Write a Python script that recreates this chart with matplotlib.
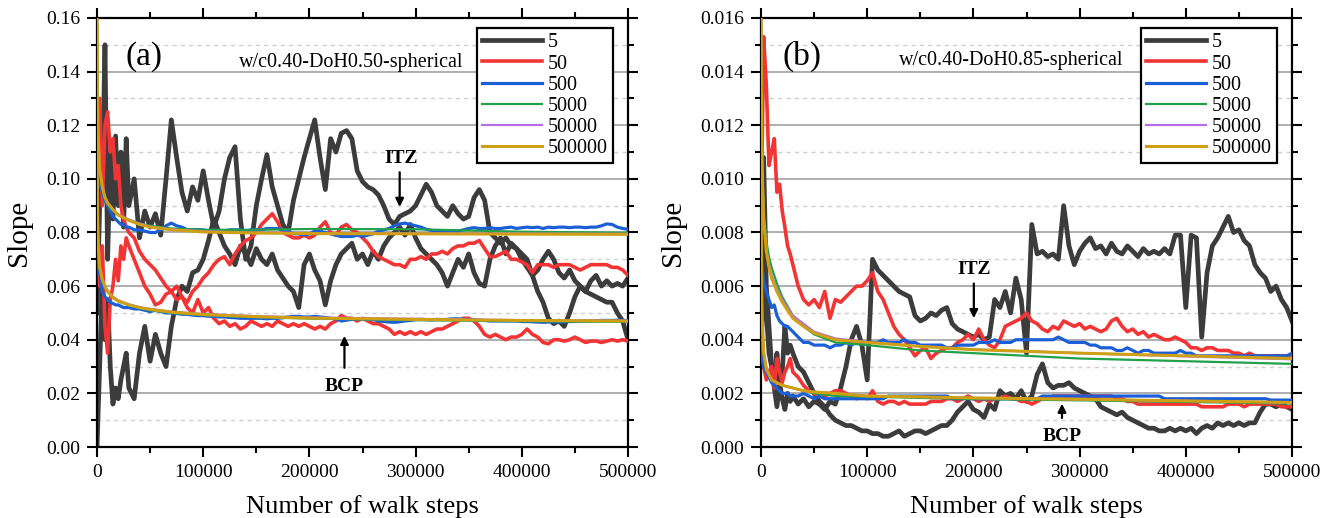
import numpy as np
import matplotlib
matplotlib.use("Agg")
import matplotlib.pyplot as plt
from matplotlib.ticker import MultipleLocator, FuncFormatter

plt.rcParams['font.family'] = ['Liberation Serif', 'DejaVu Serif']
plt.rcParams['mathtext.fontset'] = 'stix'

# ---------------------------------------------------------------- sample grid
# walk steps at which the noisy series are tabulated
STEPS = np.concatenate([np.arange(0, 30000, 2500), np.arange(30000, 500001, 5000)])
# walk steps at which the smooth (large sample) series are tabulated
SMOOTH_STEPS = [0, 500, 1000, 2500, 5000, 7500, 10000, 15000, 20000, 30000,
                40000, 50000, 70000, 100000, 150000, 200000, 300000, 400000, 500000]

SERIES_LABELS = ["5", "50", "500", "5000", "50000", "500000"]

# ---------------------------------------------------------------- panel (a)
a_n5_itz = [0.05, 0.09, 0.10, 0.15, 0.07, 0.11, 0.085, 0.116, 0.09, 0.11, 0.082, 0.115,
            0.09, 0.1, 0.078, 0.088, 0.082, 0.087, 0.079, 0.1, 0.122, 0.108,
            0.095, 0.088, 0.097, 0.092, 0.103, 0.092, 0.082, 0.088, 0.1, 0.108,
            0.112, 0.085, 0.07, 0.075, 0.09, 0.1, 0.109, 0.097, 0.09, 0.083,
            0.08, 0.092, 0.1, 0.108, 0.115, 0.122, 0.108, 0.096, 0.115, 0.11,
            0.117, 0.118, 0.115, 0.103, 0.099, 0.097, 0.096, 0.094, 0.09, 0.085,
            0.083, 0.086, 0.087, 0.088, 0.09, 0.094, 0.098, 0.095, 0.09, 0.088,
            0.086, 0.09, 0.087, 0.085, 0.086, 0.093, 0.096, 0.092, 0.08, 0.078,
            0.076, 0.078, 0.075, 0.074, 0.072, 0.07, 0.064, 0.058, 0.054, 0.048,
            0.046, 0.047, 0.045, 0.05, 0.056, 0.06, 0.058, 0.062, 0.064, 0.06,
            0.062, 0.06, 0.061, 0.06, 0.063]
a_n5_bcp = [0.0, 0.03, 0.062, 0.04, 0.055, 0.03, 0.016, 0.022, 0.018, 0.025, 0.03, 0.035,
            0.022, 0.018, 0.035, 0.045, 0.032, 0.042, 0.035, 0.03, 0.045, 0.055,
            0.06, 0.058, 0.065, 0.066, 0.07, 0.077, 0.085, 0.08, 0.075, 0.072,
            0.068, 0.075, 0.072, 0.068, 0.074, 0.07, 0.068, 0.072, 0.066, 0.063,
            0.06, 0.058, 0.052, 0.068, 0.072, 0.066, 0.062, 0.053, 0.062, 0.068,
            0.072, 0.074, 0.076, 0.07, 0.072, 0.068, 0.073, 0.07, 0.075, 0.078,
            0.08, 0.082, 0.079, 0.083, 0.078, 0.074, 0.072, 0.07, 0.068, 0.065,
            0.06, 0.065, 0.07, 0.067, 0.072, 0.065, 0.061, 0.06, 0.07, 0.075,
            0.078, 0.072, 0.076, 0.074, 0.07, 0.067, 0.064, 0.066, 0.07, 0.073,
            0.07, 0.065, 0.063, 0.066, 0.062, 0.06, 0.058, 0.057, 0.056, 0.055,
            0.054, 0.054, 0.05, 0.047, 0.04]
a_n50_itz = [0.11, 0.13, 0.09, 0.12, 0.125, 0.11, 0.115, 0.1, 0.105, 0.09, 0.085, 0.082,
             0.08, 0.078, 0.073, 0.07, 0.068, 0.066, 0.063, 0.06, 0.058, 0.055,
             0.056, 0.054, 0.058, 0.06, 0.063, 0.065, 0.068, 0.07, 0.071, 0.068,
             0.072, 0.075, 0.077, 0.078, 0.08, 0.083, 0.085, 0.087, 0.084, 0.08,
             0.079, 0.078, 0.078, 0.079, 0.078, 0.079, 0.082, 0.084, 0.08, 0.079,
             0.082, 0.083, 0.081, 0.08, 0.078, 0.076, 0.073, 0.071, 0.07, 0.069,
             0.068, 0.068, 0.067, 0.07, 0.07, 0.071, 0.07, 0.072, 0.072, 0.073,
             0.072, 0.074, 0.075, 0.075, 0.076, 0.076, 0.077, 0.074, 0.071, 0.071,
             0.072, 0.073, 0.07, 0.07, 0.069, 0.068, 0.065, 0.068, 0.068, 0.068,
             0.067, 0.068, 0.068, 0.068, 0.067, 0.066, 0.067, 0.068, 0.068, 0.068,
             0.068, 0.067, 0.067, 0.066, 0.064]
a_n50_bcp = [0.09, 0.06, 0.075, 0.045, 0.035, 0.055, 0.06, 0.07, 0.062, 0.075, 0.07, 0.078,
             0.075, 0.07, 0.065, 0.06, 0.057, 0.053, 0.054, 0.057, 0.058, 0.06,
             0.056, 0.052, 0.05, 0.055, 0.05, 0.052, 0.048, 0.046, 0.047, 0.045,
             0.046, 0.044, 0.045, 0.047, 0.046, 0.045, 0.046, 0.045, 0.047, 0.046,
             0.045, 0.046, 0.045, 0.046, 0.045, 0.044, 0.045, 0.044, 0.046, 0.047,
             0.049, 0.048, 0.048, 0.047, 0.048, 0.047, 0.046, 0.046, 0.045, 0.044,
             0.042, 0.043, 0.042, 0.043, 0.042, 0.043, 0.042, 0.043, 0.044, 0.044,
             0.045, 0.046, 0.047, 0.048, 0.048, 0.047, 0.045, 0.042, 0.041, 0.042,
             0.041, 0.04, 0.041, 0.041, 0.042, 0.044, 0.042, 0.041, 0.039, 0.0385,
             0.04, 0.04, 0.0395, 0.04, 0.041, 0.04, 0.039, 0.0395, 0.0395, 0.039,
             0.0395, 0.04, 0.0395, 0.04, 0.0395]
a_n500_itz = [0.11, 0.1, 0.095, 0.092, 0.09, 0.088, 0.086, 0.085, 0.084, 0.083, 0.083, 0.082,
              0.082, 0.081, 0.081, 0.0805, 0.08, 0.08, 0.081, 0.0825, 0.0835, 0.0825,
              0.082, 0.081, 0.081, 0.081, 0.081, 0.0805, 0.081, 0.0805, 0.0805, 0.081,
              0.081, 0.081, 0.0805, 0.081, 0.081, 0.081, 0.0815, 0.0815, 0.0815, 0.081,
              0.0805, 0.0795, 0.0795, 0.079, 0.0795, 0.0805, 0.0805, 0.08, 0.0795, 0.079,
              0.0785, 0.0785, 0.0785, 0.079, 0.0785, 0.079, 0.0795, 0.0805, 0.081, 0.0815,
              0.0825, 0.0832, 0.0835, 0.083, 0.0825, 0.082, 0.0812, 0.0808, 0.0805, 0.0805,
              0.0805, 0.0805, 0.0805, 0.081, 0.0815, 0.0818, 0.0815, 0.0815, 0.0818, 0.0815,
              0.0815, 0.0818, 0.082, 0.0815, 0.0818, 0.082, 0.0818, 0.082, 0.0815, 0.082,
              0.0818, 0.082, 0.082, 0.0818, 0.082, 0.082, 0.0818, 0.082, 0.082, 0.0825,
              0.0832, 0.083, 0.082, 0.0815, 0.0812]
a_n500_bcp = [0.075, 0.065, 0.058, 0.056, 0.055, 0.054, 0.0535, 0.053, 0.053, 0.0525, 0.052, 0.052,
              0.052, 0.0515, 0.0515, 0.051, 0.0505, 0.051, 0.0505, 0.05, 0.05, 0.0498,
              0.0495, 0.0495, 0.0492, 0.049, 0.049, 0.0488, 0.0487, 0.0485, 0.0485, 0.0483,
              0.0482, 0.048, 0.048, 0.048, 0.048, 0.048, 0.0478, 0.048, 0.048, 0.0482,
              0.0485, 0.0487, 0.0487, 0.0485, 0.0485, 0.0487, 0.0485, 0.0483, 0.048, 0.0478,
              0.047, 0.0473, 0.0476, 0.0478, 0.0478, 0.0476, 0.0475, 0.047, 0.0468, 0.0466,
              0.0465, 0.0467, 0.047, 0.0472, 0.0475, 0.0476, 0.0475, 0.0474, 0.0476, 0.0475,
              0.0476, 0.0478, 0.0478, 0.0476, 0.0475, 0.0475, 0.0473, 0.0472, 0.047, 0.047,
              0.047, 0.047, 0.047, 0.047, 0.0468, 0.0468, 0.0467, 0.0466, 0.0465, 0.0466,
              0.0466, 0.0466, 0.0467, 0.0468, 0.0468, 0.0469, 0.047, 0.047, 0.0471, 0.0472,
              0.0472, 0.0472, 0.0473, 0.0472, 0.0472]
a_n5000_itz = [0.15, 0.125, 0.115, 0.103, 0.096, 0.0925, 0.0905, 0.0882, 0.0865, 0.0847,
               0.0834, 0.0825, 0.0815, 0.081, 0.081, 0.0813, 0.0812, 0.0803, 0.0799]
a_n50000_itz = [0.17, 0.13, 0.117, 0.104, 0.0972, 0.0933, 0.0912, 0.0887, 0.0868, 0.0848,
                0.0833, 0.0822, 0.0812, 0.0804, 0.08, 0.0798, 0.0797, 0.0796, 0.0795]
a_n500000_itz = [0.175, 0.13, 0.117, 0.104, 0.097, 0.093, 0.091, 0.0885, 0.0865, 0.0845,
                 0.083, 0.082, 0.081, 0.0802, 0.0798, 0.0796, 0.0795, 0.0794, 0.0793]
a_n5000_bcp = [0.11, 0.083, 0.075, 0.066, 0.062, 0.0595, 0.0578, 0.0556, 0.0543, 0.0528,
               0.0518, 0.051, 0.05, 0.0492, 0.0484, 0.0479, 0.0473, 0.0469, 0.0467]
a_n50000_bcp = [0.12, 0.086, 0.077, 0.068, 0.0628, 0.0601, 0.0583, 0.056, 0.0547, 0.0532,
                0.0522, 0.0515, 0.0505, 0.0496, 0.0488, 0.0483, 0.0478, 0.0473, 0.0471]
a_n500000_bcp = [0.12, 0.085, 0.076, 0.067, 0.0624, 0.0598, 0.058, 0.0558, 0.0545, 0.053,
                 0.052, 0.0513, 0.0503, 0.0494, 0.0486, 0.0481, 0.0476, 0.0472, 0.047]

# ---------------------------------------------------------------- panel (b)
b_n5_itz = [0.004, 0.0108, 0.006, 0.0045, 0.003, 0.0022, 0.0015, 0.0024, 0.0018, 0.0014, 0.002, 0.0017,
            0.0019, 0.0016, 0.0018, 0.0015, 0.0017, 0.0016, 0.0014, 0.0017, 0.0016, 0.0022,
            0.003, 0.004, 0.0045, 0.0038, 0.0025, 0.007, 0.0066, 0.0064, 0.0062, 0.006,
            0.0058, 0.0057, 0.0056, 0.0049, 0.0047, 0.0048, 0.005, 0.0049, 0.0051, 0.0052,
            0.0046, 0.0044, 0.0043, 0.0042, 0.0041, 0.0042, 0.004, 0.0041, 0.0055, 0.0052,
            0.0058, 0.005, 0.0063, 0.0055, 0.0035, 0.0083, 0.0072, 0.0073, 0.0071, 0.0072,
            0.007, 0.009, 0.0075, 0.0068, 0.0073, 0.0076, 0.0078, 0.0074, 0.0075, 0.0072,
            0.0076, 0.0073, 0.0072, 0.0075, 0.0073, 0.0071, 0.0074, 0.0072, 0.0073, 0.0072,
            0.0074, 0.0072, 0.0079, 0.0079, 0.0052, 0.0079, 0.0078, 0.0041, 0.0065, 0.0075,
            0.0078, 0.0082, 0.0086, 0.008, 0.0081, 0.0077, 0.0075, 0.0068, 0.0065, 0.0063,
            0.0058, 0.006, 0.0055, 0.0052, 0.0047]
b_n5_bcp = [0.003, 0.0075, 0.005, 0.0035, 0.003, 0.0025, 0.0035, 0.0022, 0.0028, 0.0045, 0.0035, 0.0038,
            0.0035, 0.003, 0.0028, 0.0024, 0.002, 0.0017, 0.0015, 0.0012, 0.001, 0.0009,
            0.0008, 0.0008, 0.0007, 0.0006, 0.0006, 0.0005, 0.0005, 0.0004, 0.0004, 0.0005,
            0.0006, 0.0004, 0.0005, 0.0006, 0.0006, 0.0005, 0.0006, 0.0007, 0.0008, 0.0008,
            0.001, 0.0013, 0.0015, 0.0017, 0.0014, 0.0013, 0.0011, 0.0016, 0.0014, 0.0021,
            0.0019, 0.002, 0.0018, 0.0021, 0.0017, 0.0019, 0.0027, 0.0031, 0.0024, 0.0022,
            0.0023, 0.0023, 0.0024, 0.0022, 0.0021, 0.002, 0.0019, 0.0018, 0.0015, 0.0014,
            0.0013, 0.0012, 0.0013, 0.0011, 0.001, 0.0009, 0.0008, 0.0007, 0.0007, 0.0006,
            0.0006, 0.0007, 0.0006, 0.0007, 0.0006, 0.0007, 0.0005, 0.0007, 0.0008, 0.0007,
            0.0009, 0.0008, 0.0009, 0.0008, 0.0009, 0.0008, 0.0009, 0.0009, 0.0013, 0.0016,
            0.0016, 0.0015, 0.0016, 0.0015, 0.0014]
b_n50_itz = [0.008, 0.0153, 0.0135, 0.0105, 0.011, 0.0115, 0.0095, 0.0098, 0.0088, 0.0082, 0.0075, 0.0072,
             0.0068, 0.006, 0.0055, 0.0053, 0.0055, 0.0052, 0.0058, 0.0048, 0.0055, 0.0054,
             0.0056, 0.0058, 0.006, 0.006, 0.0062, 0.0065, 0.0058, 0.0055, 0.005, 0.0045,
             0.0042, 0.004, 0.0037, 0.0034, 0.0036, 0.0037, 0.0033, 0.0035, 0.0036, 0.0037,
             0.0037, 0.0039, 0.004, 0.0042, 0.004, 0.0044, 0.004, 0.0038, 0.0037, 0.004,
             0.0045, 0.0046, 0.0047, 0.0048, 0.005, 0.0047, 0.0046, 0.0044, 0.0043, 0.0045,
             0.0044, 0.0047, 0.0046, 0.0045, 0.0046, 0.0044, 0.0045, 0.0044, 0.0043, 0.0044,
             0.0047, 0.0048, 0.0045, 0.0043, 0.0044, 0.0042, 0.0043, 0.0041, 0.0042, 0.0041,
             0.004, 0.004, 0.0041, 0.004, 0.0039, 0.0037, 0.0037, 0.0036, 0.0037, 0.0037,
             0.0036, 0.0036, 0.0036, 0.0035, 0.0035, 0.0034, 0.0035, 0.0034, 0.0034, 0.0034,
             0.0034, 0.0034, 0.0034, 0.0034, 0.0034]
b_n50_bcp = [0.004, 0.003, 0.0025, 0.0028, 0.003, 0.0022, 0.0033, 0.0028, 0.0024, 0.0028, 0.003, 0.0033,
             0.0028, 0.0026, 0.0023, 0.0021, 0.002, 0.0019, 0.0019, 0.002, 0.0021, 0.0021,
             0.002, 0.0019, 0.0018, 0.0019, 0.0018, 0.0021, 0.0017, 0.0016, 0.0017, 0.0017,
             0.0016, 0.0017, 0.0016, 0.0016, 0.0016, 0.0016, 0.0017, 0.0017, 0.0017, 0.0018,
             0.0018, 0.0017, 0.0018, 0.0019, 0.0018, 0.0017, 0.0018, 0.0017, 0.0018, 0.0018,
             0.0019, 0.0018, 0.0018, 0.0017, 0.0017, 0.0016, 0.0017, 0.0018, 0.0018, 0.0019,
             0.0019, 0.0019, 0.0019, 0.0019, 0.0019, 0.0019, 0.0019, 0.0019, 0.0019, 0.0019,
             0.0019, 0.0018, 0.0018, 0.0017, 0.0017, 0.0016, 0.0016, 0.0016, 0.0016, 0.0016,
             0.0016, 0.0016, 0.0016, 0.0016, 0.0016, 0.0016, 0.0016, 0.0015, 0.0015, 0.0015,
             0.0015, 0.0015, 0.0016, 0.0016, 0.0016, 0.0015, 0.0016, 0.0016, 0.0016, 0.0016,
             0.0016, 0.0016, 0.0015, 0.0015, 0.0015]
b_n500_itz = [0.007, 0.0062, 0.0058, 0.0055, 0.0052, 0.0053, 0.0049, 0.0047, 0.0046, 0.0045, 0.0045, 0.0044,
              0.0043, 0.0041, 0.0039, 0.0039, 0.0038, 0.0038, 0.0038, 0.0037, 0.0038, 0.0038,
              0.0039, 0.0038, 0.0039, 0.0039, 0.0039, 0.0039, 0.0039, 0.004, 0.0039, 0.0039,
              0.0039, 0.004, 0.0039, 0.0039, 0.0038, 0.0038, 0.0038, 0.0038, 0.0038, 0.0037,
              0.0037, 0.0038, 0.0038, 0.0038, 0.0038, 0.0039, 0.0039, 0.0039, 0.004, 0.0039,
              0.0039, 0.0039, 0.004, 0.004, 0.004, 0.004, 0.004, 0.004, 0.004, 0.004,
              0.0041, 0.004, 0.0039, 0.0039, 0.0039, 0.0039, 0.0038, 0.0038, 0.0037, 0.0037,
              0.0037, 0.0036, 0.0036, 0.0037, 0.0036, 0.0035, 0.0036, 0.0036, 0.0035, 0.0035,
              0.0035, 0.0035, 0.0035, 0.0036, 0.0035, 0.0035, 0.0034, 0.0034, 0.0034, 0.0034,
              0.0034, 0.0034, 0.0034, 0.0034, 0.0034, 0.0034, 0.0034, 0.0034, 0.0034, 0.0034,
              0.0034, 0.0034, 0.0034, 0.0034, 0.0035]
b_n500_bcp = [0.0035, 0.003, 0.0028, 0.0026, 0.0024, 0.0023, 0.0022, 0.0021, 0.002, 0.002, 0.002, 0.0019,
              0.0019, 0.0019, 0.002, 0.0019, 0.0018, 0.0019, 0.0018, 0.0018, 0.0018, 0.0018,
              0.0018, 0.0018, 0.0018, 0.0018, 0.0018, 0.0018, 0.0018, 0.0018, 0.0019, 0.0019,
              0.0019, 0.0019, 0.0019, 0.0019, 0.0019, 0.0019, 0.0019, 0.0019, 0.0019, 0.0019,
              0.0018, 0.0018, 0.0018, 0.0018, 0.0018, 0.0018, 0.0018, 0.0018, 0.0018, 0.0018,
              0.0018, 0.0018, 0.0018, 0.0018, 0.0018, 0.0018, 0.0018, 0.0019, 0.0019, 0.0019,
              0.0019, 0.0019, 0.0019, 0.0019, 0.0019, 0.0019, 0.0019, 0.0019, 0.0019, 0.0019,
              0.0019, 0.0019, 0.0019, 0.0019, 0.0019, 0.0019, 0.0019, 0.0019, 0.0019, 0.0019,
              0.0018, 0.0018, 0.0018, 0.0018, 0.0018, 0.0018, 0.0018, 0.0018, 0.0018, 0.0018,
              0.0018, 0.0018, 0.0018, 0.0018, 0.0018, 0.0018, 0.0018, 0.0018, 0.0018, 0.0018,
              0.00175, 0.00175, 0.00175, 0.00175, 0.00175]
b_n5000_itz = [0.0165, 0.0125, 0.0107, 0.0088, 0.0077, 0.0071, 0.0067, 0.0061, 0.0056, 0.0049,
               0.0045, 0.0042, 0.0039, 0.0038, 0.0036, 0.0035, 0.0033, 0.0032, 0.0031]
b_n50000_itz = [0.0175, 0.0125, 0.0106, 0.0086, 0.0074, 0.0068, 0.0064, 0.0059, 0.0055, 0.0049,
                0.0046, 0.0043, 0.00405, 0.00392, 0.00376, 0.00364, 0.0035, 0.00338, 0.00327]
b_n500000_itz = [0.0175, 0.0125, 0.0105, 0.0085, 0.0073, 0.0067, 0.0063, 0.0058, 0.0054, 0.0048,
                 0.0045, 0.00425, 0.004, 0.0039, 0.00375, 0.00363, 0.0035, 0.0034, 0.0033]
b_n5000_bcp = [0.011, 0.0063, 0.0047, 0.0035, 0.0029, 0.0027, 0.0025, 0.0024, 0.0023, 0.0022,
               0.0021, 0.002, 0.0019, 0.00188, 0.00183, 0.00179, 0.00174, 0.00168, 0.00162]
b_n50000_bcp = [0.0115, 0.0066, 0.0049, 0.0036, 0.003, 0.0027, 0.0025, 0.0024, 0.0023, 0.0022,
                0.0021, 0.00206, 0.002, 0.00191, 0.00187, 0.00183, 0.00178, 0.00172, 0.00166]
b_n500000_bcp = [0.0115, 0.0065, 0.0048, 0.0035, 0.0029, 0.0027, 0.0025, 0.0024, 0.0023, 0.0022,
                 0.0021, 0.00205, 0.002, 0.0019, 0.00187, 0.00183, 0.00178, 0.00172, 0.00166]

# ---------------------------------------------------------------- styling
COLORS = ["#3c3c3c", "#f23434", "#1a5fd8", "#22a04a", "#b46ee6", "#cf9f14"]
WIDTHS = [3.4, 2.6, 2.3, 1.6, 1.6, 2.2]

PANELS = [
    dict(tag="(a)", title="w/c0.40-DoH0.50-spherical", ymax=0.16, ymajor=0.02, yminor=0.01,
         fmt="{:.2f}",
         noisy=[(a_n5_itz, a_n5_bcp), (a_n50_itz, a_n50_bcp), (a_n500_itz, a_n500_bcp)],
         smooth=[(a_n5000_itz, a_n5000_bcp), (a_n50000_itz, a_n50000_bcp),
                 (a_n500000_itz, a_n500000_bcp)],
         itz_arrow=(285000, 0.1035, 0.0885), itz_text=(286000, 0.1045),
         bcp_arrow=(233000, 0.0285, 0.0425), bcp_text=(233000, 0.0225),
         tag_pos=(44000, 0.1455), title_pos=(239000, 0.1435)),
    dict(tag="(b)", title="w/c0.40-DoH0.85-spherical", ymax=0.016, ymajor=0.002, yminor=0.001,
         fmt="{:.3f}",
         noisy=[(b_n5_itz, b_n5_bcp), (b_n50_itz, b_n50_bcp), (b_n500_itz, b_n500_bcp)],
         smooth=[(b_n5000_itz, b_n5000_bcp), (b_n50000_itz, b_n50000_bcp),
                 (b_n500000_itz, b_n500000_bcp)],
         itz_arrow=(200400, 0.0062, 0.0047), itz_text=(200400, 0.0063),
         bcp_arrow=(283400, 0.00098, 0.00172), bcp_text=(283400, 0.00038),
         tag_pos=(39000, 0.01455), title_pos=(236000, 0.0144)),
]

fig = plt.figure(figsize=(13.33, 5.18), dpi=100)
axes_rects = [[97 / 1333, 71 / 518, 531 / 1333, 429 / 518],
              [761 / 1333, 71 / 518, 531 / 1333, 429 / 518]]

for rect, p in zip(axes_rects, PANELS):
    ax = fig.add_axes(rect)
    handles = []
    for i, (itz, bcp) in enumerate(p["noisy"]):
        h, = ax.plot(STEPS, itz, color=COLORS[i], lw=WIDTHS[i], zorder=2 + i)
        ax.plot(STEPS, bcp, color=COLORS[i], lw=WIDTHS[i], zorder=2 + i)
        handles.append(h)
    for j, (itz, bcp) in enumerate(p["smooth"]):
        i = j + 3
        h, = ax.plot(SMOOTH_STEPS, itz, color=COLORS[i], lw=WIDTHS[i], zorder=2 + i)
        ax.plot(SMOOTH_STEPS, bcp, color=COLORS[i], lw=WIDTHS[i], zorder=2 + i)
        handles.append(h)

    ax.set_xlim(0, 500000)
    ax.set_ylim(0, p["ymax"])
    ax.xaxis.set_major_locator(MultipleLocator(100000))
    ax.xaxis.set_minor_locator(MultipleLocator(50000))
    ax.yaxis.set_major_locator(MultipleLocator(p["ymajor"]))
    ax.yaxis.set_minor_locator(MultipleLocator(p["yminor"]))
    ax.xaxis.set_major_formatter(FuncFormatter(lambda v, _: f"{int(round(v))}"))
    fmt = p["fmt"]
    ax.yaxis.set_major_formatter(FuncFormatter(lambda v, _, f=fmt: f.format(v)))

    ax.grid(axis="y", which="major", color="#a8a8a8", lw=1.3, zorder=0)
    ax.grid(axis="y", which="minor", color="#cfcfcf", lw=1.0, ls=(0, (3, 3)), zorder=0)
    ax.set_axisbelow(True)

    ax.tick_params(which="both", direction="out", top=True, right=True, width=1.5,
                   labelsize=14, pad=5)
    ax.tick_params(which="major", length=7)
    ax.tick_params(which="minor", length=4)
    for s in ax.spines.values():
        s.set_linewidth(1.6)

    ax.set_xlabel("Number of walk steps", fontsize=19, labelpad=10)
    ax.set_ylabel("Slope", fontsize=21, labelpad=10)

    leg = ax.legend(handles, SERIES_LABELS, loc="upper right",
                    bbox_to_anchor=(0.972, 0.976), fontsize=14.5, frameon=True,
                    fancybox=False, framealpha=1, edgecolor="black",
                    handlelength=3.0, handletextpad=0.3, labelspacing=0.1,
                    borderpad=0.25, borderaxespad=0)
    leg.get_frame().set_linewidth(1.6)
    leg.set_zorder(20)

    ax.text(*p["tag_pos"], p["tag"], fontsize=24, ha="center", va="center", zorder=21)
    ax.text(*p["title_pos"], p["title"], fontsize=14.5, ha="center", va="center", zorder=21)

    x, y0, y1 = p["itz_arrow"]
    ax.annotate("", xy=(x, y1), xytext=(x, y0),
                arrowprops=dict(arrowstyle="-|>", color="black", lw=1.6, mutation_scale=12),
                zorder=21)
    ax.text(*p["itz_text"], "ITZ", fontsize=14, fontweight="bold", ha="center",
            va="bottom", zorder=21)
    x, y0, y1 = p["bcp_arrow"]
    ax.annotate("", xy=(x, y1), xytext=(x, y0),
                arrowprops=dict(arrowstyle="-|>", color="black", lw=1.6, mutation_scale=12),
                zorder=21)
    ax.text(*p["bcp_text"], "BCP", fontsize=14, fontweight="bold", ha="center",
            va="center", zorder=21)

fig.savefig("out.png", dpi=100)
